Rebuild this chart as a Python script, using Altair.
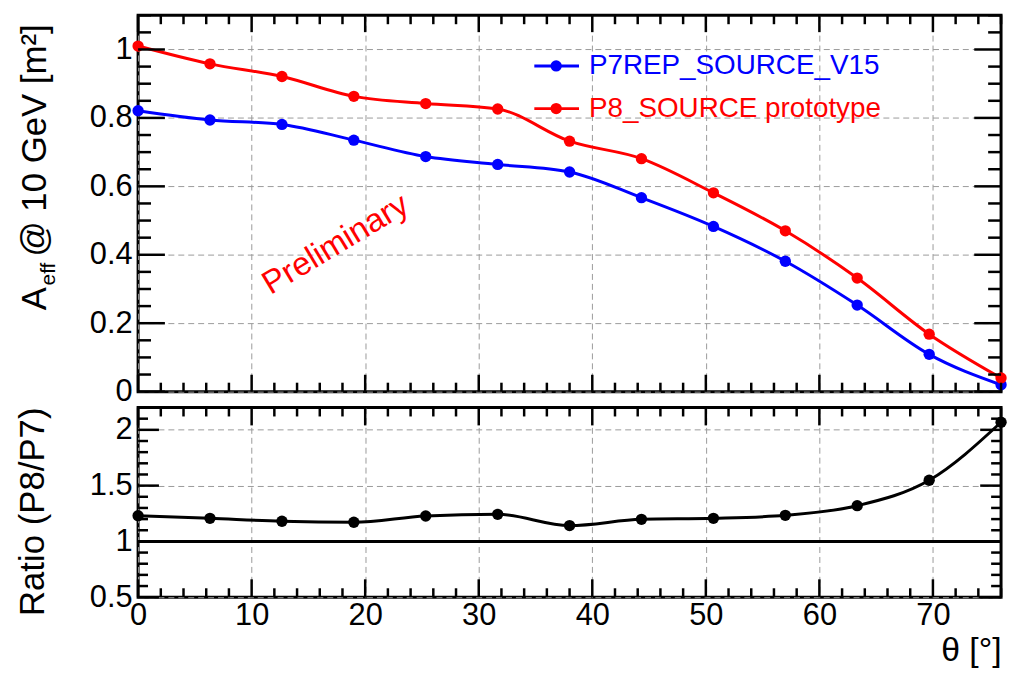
import altair as alt
import pandas as pd

# ---------------- data ----------------
theta = [0.0, 6.33, 12.67, 19.0, 25.33, 31.67, 38.0, 44.33, 50.67, 57.0, 63.33, 69.67, 76.0]
aeff_p7 = [0.821, 0.794, 0.781, 0.735, 0.687, 0.664, 0.642, 0.567, 0.483, 0.381, 0.253, 0.109, 0.020]
aeff_p8 = [1.010, 0.958, 0.921, 0.863, 0.842, 0.826, 0.732, 0.681, 0.581, 0.470, 0.332, 0.168, 0.040]
ratio = [1.231, 1.207, 1.181, 1.172, 1.228, 1.243, 1.142, 1.198, 1.207, 1.234, 1.320, 1.548, 2.068]
series_names = ["P7REP_SOURCE_V15", "P8_SOURCE prototype"]
series_colors = ["#0000ff", "#ff0000"]
reference_ratio = [1.0]

x_major = [0, 10, 20, 30, 40, 50, 60, 70]
x_minor = [v for v in range(0, 77, 2) if v % 10 != 0]
ytop_major = [0, 0.2, 0.4, 0.6, 0.8, 1.0]
ytop_minor = [round(i * 0.05, 2) for i in range(0, 23) if i % 4 != 0]
ybot_major = [0.5, 1.0, 1.5, 2.0]
ybot_minor = [round(0.5 + i * 0.1, 2) for i in range(0, 18) if i % 5 != 0]

FONT = "Liberation Sans"
W = 869
H1 = 379
H2 = 191

xscale = alt.Scale(domain=[0, 76], nice=False, zero=False)
ytop_scale = alt.Scale(domain=[0, 1.1], nice=False, zero=False)
ybot_scale = alt.Scale(domain=[0.5, 2.2], nice=False, zero=False)

df_top = pd.DataFrame({
    "theta": theta * 2,
    "aeff": aeff_p7 + aeff_p8,
    "series": [series_names[0]] * len(theta) + [series_names[1]] * len(theta),
})
df_ratio = pd.DataFrame({"theta": theta, "ratio": ratio})

grid_kw = dict(gridDash=[6, 4], gridColor="#9a9a9a", gridWidth=1)
label_kw = dict(labelFont=FONT, labelFontSize=31, labelColor="black")

x_top_axis = alt.Axis(values=x_major, labels=False, ticks=False, domain=False,
                      grid=True, title=None, minExtent=0, maxExtent=0, **grid_kw)
y_top_axis = alt.Axis(values=ytop_major, format="~g", ticks=False, domain=False,
                      grid=True, title=None, labelPadding=6, **grid_kw, **label_kw)
x_bot_axis = alt.Axis(values=x_major, ticks=False, domain=False, grid=True,
                      title="θ [°]", titleAnchor="end", titleFont=FONT, titleFontSize=34,
                      titleFontWeight="normal", titleColor="black", titlePadding=4,
                      labelPadding=3, labelFlush=False, **grid_kw, **label_kw)
y_bot_axis = alt.Axis(values=ybot_major, format="~g", ticks=False, domain=False,
                      grid=True, title=None, labelPadding=6, **grid_kw, **label_kw)


def tick_layers(Wd, H, yfield, yscale, xaxis, yaxis, ymaj, ymin, lxM, lxm, lyM, lym):
    layers = []
    for vals, L in ((x_major, lxM), (x_minor, lxm)):
        d = pd.DataFrame({"theta": vals})
        base = alt.Chart(d).mark_rule(color="black", strokeWidth=2.5)
        xe = alt.X("theta:Q", scale=xscale, axis=xaxis)
        layers.append(base.encode(x=xe, y=alt.value(H), y2=alt.value(H - L)))
        layers.append(base.encode(x=xe, y=alt.value(0), y2=alt.value(L)))
    for vals, L in ((ymaj, lyM), (ymin, lym)):
        d = pd.DataFrame({yfield: vals})
        base = alt.Chart(d).mark_rule(color="black", strokeWidth=2.5)
        ye = alt.Y(f"{yfield}:Q", scale=yscale, axis=yaxis)
        layers.append(base.encode(y=ye, x=alt.value(0), x2=alt.value(L)))
        layers.append(base.encode(y=ye, x=alt.value(Wd), x2=alt.value(Wd - L)))
    return layers


one = pd.DataFrame({"k": [0]})

# ---------------- top panel ----------------
color_enc = alt.Color("series:N", scale=alt.Scale(domain=series_names, range=series_colors), legend=None)
x_top = alt.X("theta:Q", scale=xscale, axis=x_top_axis)
y_top = alt.Y("aeff:Q", scale=ytop_scale, axis=y_top_axis)

top_lines = alt.Chart(df_top).mark_line(strokeWidth=3, interpolate="monotone").encode(
    x=x_top, y=y_top, color=color_enc, detail="series:N")
top_points = alt.Chart(df_top).mark_circle(size=130, opacity=1).encode(
    x=x_top, y=y_top, color=color_enc)

prelim = alt.Chart(one).mark_text(text="Preliminary", angle=329, fontSize=33, font=FONT,
                                  color="#ff0000", align="center", baseline="middle").encode(
    x=alt.datum(17.4, axis=x_top_axis, scale=xscale), y=alt.datum(0.43, axis=y_top_axis, scale=ytop_scale))

legend_layers = []
for i, (name, col) in enumerate(zip(series_names, series_colors)):
    ly = 51 + i * 43
    legend_layers.append(alt.Chart(one).mark_rule(color=col, strokeWidth=3).encode(
        x=alt.value(399), x2=alt.value(444), y=alt.value(ly)))
    legend_layers.append(alt.Chart(one).mark_circle(color=col, size=130, opacity=1).encode(
        x=alt.value(421), y=alt.value(ly)))
    legend_layers.append(alt.Chart(one).mark_text(text=name, color=col, fontSize=28, font=FONT,
                                                  align="left", baseline="middle").encode(
        x=alt.value(454), y=alt.value(ly)))

ytitle_top = [
    alt.Chart(one).mark_text(text="A", angle=270, align="left", baseline="alphabetic",
                             fontSize=35, font=FONT, color="black").encode(
        x=alt.value(-93), y=alt.value(297)),
    alt.Chart(one).mark_text(text="eff", angle=270, align="left", baseline="alphabetic",
                             fontSize=21, font=FONT, color="black").encode(
        x=alt.value(-84), y=alt.value(272)),
    alt.Chart(one).mark_text(text="@ 10 GeV [m²]", angle=270, align="left", baseline="alphabetic",
                             fontSize=35, font=FONT, color="black").encode(
        x=alt.value(-93), y=alt.value(243)),
]

top = alt.layer(
    top_lines, top_points, prelim,
    *tick_layers(W, H1, "aeff", ytop_scale, x_top_axis, y_top_axis, ytop_major, ytop_minor, 17, 9, 27, 13),
    *legend_layers, *ytitle_top,
).properties(width=W, height=H1)

# ---------------- bottom panel ----------------
x_bot = alt.X("theta:Q", scale=xscale, axis=x_bot_axis)
y_bot = alt.Y("ratio:Q", scale=ybot_scale, axis=y_bot_axis)

unity = alt.Chart(pd.DataFrame({"ratio": reference_ratio})).mark_rule(color="black", strokeWidth=3).encode(
    y=y_bot)
ratio_line = alt.Chart(df_ratio).mark_line(strokeWidth=3, color="black", interpolate="monotone").encode(
    x=x_bot, y=y_bot)
ratio_points = alt.Chart(df_ratio).mark_circle(size=130, opacity=1, color="black").encode(
    x=x_bot, y=y_bot)
ytitle_bot = alt.Chart(one).mark_text(text="Ratio (P8/P7)", angle=270, align="left",
                                      baseline="alphabetic", fontSize=35, font=FONT,
                                      color="black").encode(x=alt.value(-95), y=alt.value(210))

bottom = alt.layer(
    unity, ratio_line, ratio_points,
    *tick_layers(W, H2, "ratio", ybot_scale, x_bot_axis, y_bot_axis, ybot_major, ybot_minor, 18, 9, 21, 10),
    ytitle_bot,
).properties(width=W, height=H2)

chart = alt.vconcat(top, bottom, spacing=16, bounds="flush").properties(
    padding={"left": 6, "top": 2, "right": 0, "bottom": 0}
).configure(font=FONT).configure_view(stroke="black", strokeWidth=3)

chart.save("out.html", embed_options={"renderer": "svg", "actions": False})
